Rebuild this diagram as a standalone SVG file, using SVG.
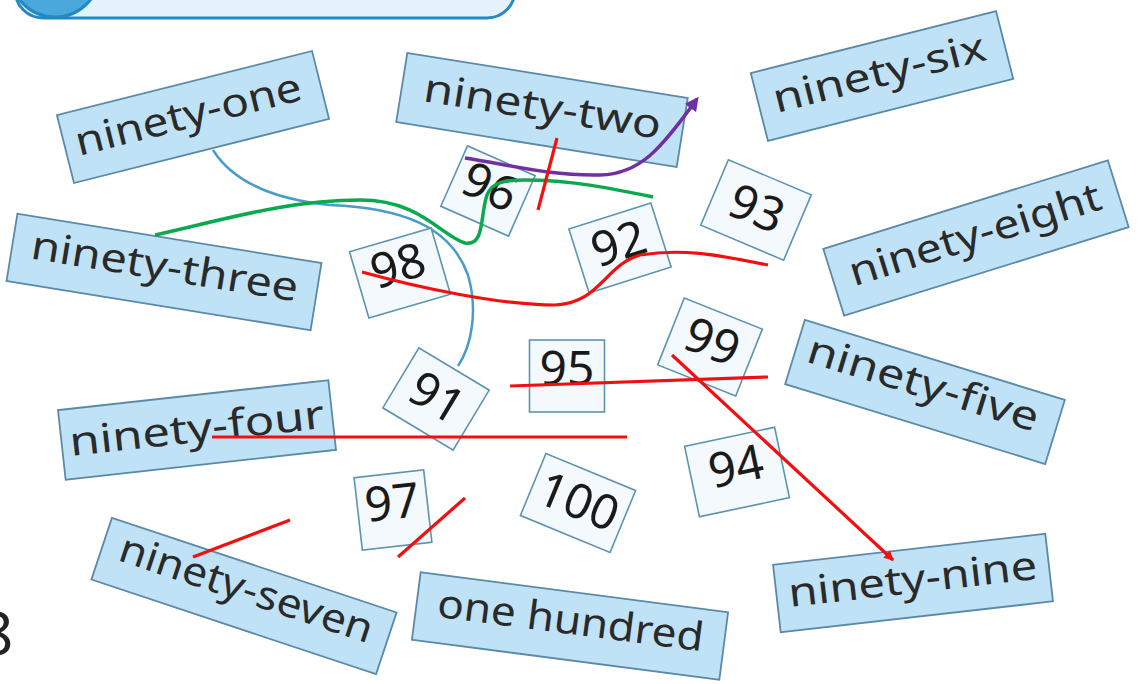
<svg xmlns="http://www.w3.org/2000/svg" width="1141" height="684" viewBox="0 0 1141 684">
<style>
.lbl rect{fill:#c0e2f6;stroke:#5b8aa6;stroke-width:1.8}
.lbl text{font-family:"Noto Sans","DejaVu Sans",sans-serif;font-size:40px;fill:#2a2a2a;text-anchor:middle}
.num rect{fill:#f3f9fd;stroke:#5e93b0;stroke-width:1.6}
.num text{font-family:"Noto Sans","DejaVu Sans",sans-serif;font-size:48px;fill:#1a1a1a;text-anchor:middle}
.red{fill:none;stroke:#f01010;stroke-width:3.2;stroke-linecap:butt}
</style>
<defs>
<marker id="ap" viewBox="0 0 10 10" refX="8" refY="5" markerWidth="4" markerHeight="4" orient="auto"><path d="M0,0 L10,5 L0,10 z" fill="#7030a0"/></marker>
<marker id="ar" viewBox="0 0 10 10" refX="9" refY="5" markerWidth="5" markerHeight="3" orient="auto"><path d="M0,0 L10,5 L0,10 z" fill="#f01010"/></marker>
</defs>
<rect width="1141" height="684" fill="#ffffff"/>
<g id="banner">
<rect x="15" y="-40" width="500" height="58" rx="28" fill="#e3f2fb" stroke="#2389c4" stroke-width="3"/>
<circle cx="55" cy="-28" r="45" fill="#4aa8dc" stroke="#2389c4" stroke-width="3"/>
</g>
<text x="-21" y="655" font-family="Noto Sans, DejaVu Sans, sans-serif" font-size="60" fill="#222">8</text>

<g id="connectors">
<path d="M213,150 C235,185 280,200 330,205 C400,208 450,225 468,275 C478,310 472,345 458,366" fill="none" stroke="#4a9cc8" stroke-width="2.5"/>
</g>

<g id="labels">
<g id="n91" class="lbl" transform="translate(193,117) rotate(-14.1)"><rect x="-131.5" y="-35" width="263" height="70"/><text x="-4" y="10" textLength="232" lengthAdjust="spacingAndGlyphs">ninety-one</text></g>
<g id="n92" class="lbl" transform="translate(542,110) rotate(9.1)"><rect x="-142" y="-35" width="284" height="70"/><text x="0" y="10" textLength="240" lengthAdjust="spacingAndGlyphs">ninety-two</text></g>
<g id="n96" class="lbl" transform="translate(882,76) rotate(-14.2)"><rect x="-126.5" y="-35" width="253" height="70"/><text x="-2" y="10" textLength="218" lengthAdjust="spacingAndGlyphs">ninety-six</text></g>
<g id="n98" class="lbl" transform="translate(976,238) rotate(-17.3)"><rect x="-149" y="-35" width="298" height="70"/><text x="0" y="10" textLength="262" lengthAdjust="spacingAndGlyphs">ninety-eight</text></g>
<g id="n93" class="lbl" transform="translate(164,272) rotate(9.2)"><rect x="-154" y="-34" width="308" height="68"/><text x="0" y="8" textLength="270" lengthAdjust="spacingAndGlyphs">ninety-three</text></g>
<g id="n94" class="lbl" transform="translate(197,430) rotate(-6.3)"><rect x="-136" y="-35" width="272" height="70"/><text x="0" y="12" textLength="256" lengthAdjust="spacingAndGlyphs">ninety-four</text></g>
<g id="n95" class="lbl" transform="translate(925,392) rotate(17.1)"><rect x="-136" y="-33.5" width="272" height="67"/><text x="-4" y="6" textLength="240" lengthAdjust="spacingAndGlyphs">ninety-five</text></g>
<g id="n97" class="lbl" transform="translate(244,596) rotate(18.4)"><rect x="-150" y="-32.5" width="300" height="65"/><text x="0" y="6" textLength="265" lengthAdjust="spacingAndGlyphs">ninety-seven</text></g>
<g id="n100" class="lbl" transform="translate(570,626) rotate(7.4)"><rect x="-155" y="-34" width="310" height="68"/><text x="0" y="8" textLength="268" lengthAdjust="spacingAndGlyphs">one hundred</text></g>
<g id="n99" class="lbl" transform="translate(913,583) rotate(-6.5)"><rect x="-137" y="-34" width="274" height="68"/><text x="0" y="10" textLength="250" lengthAdjust="spacingAndGlyphs">ninety-nine</text></g>
</g>

<g id="numbers">
<g id="b96" class="num" transform="translate(488,191) rotate(23.8)"><rect x="-37" y="-33" width="74" height="66"/><text x="0" y="12">96</text></g>
<g id="b92" class="num" transform="translate(620,248) rotate(-17.6)"><rect x="-43" y="-33.5" width="86" height="67"/><text x="0" y="12">92</text></g>
<g id="b93" class="num" transform="translate(756,210) rotate(22.9)"><rect x="-45" y="-35.5" width="90" height="71"/><text x="0" y="15">93</text></g>
<g id="b98" class="num" transform="translate(400,273) rotate(-16.3)"><rect x="-42.5" y="-34.5" width="85" height="69"/><text x="0" y="9">98</text></g>
<g id="b91" class="num" transform="translate(436,399) rotate(31)"><rect x="-41" y="-35" width="82" height="70"/><text x="0" y="15">91</text></g>
<g id="b95" class="num" transform="translate(567,376)"><rect x="-37.5" y="-36" width="75" height="72"/><text x="0" y="9">95</text></g>
<g id="b99" class="num" transform="translate(710,347) rotate(21.7)"><rect x="-42" y="-36" width="84" height="72"/><text x="0" y="11">99</text></g>
<g id="b94" class="num" transform="translate(737,472) rotate(-11.9)"><rect x="-46" y="-36" width="92" height="72"/><text x="0" y="11">94</text></g>
<g id="b100" class="num" transform="translate(578,503) rotate(22.4)"><rect x="-48.5" y="-33.5" width="97" height="67"/><text x="0" y="15">100</text></g>
<g id="b97" class="num" transform="translate(393,510) rotate(-6.5)"><rect x="-35" y="-36.5" width="70" height="73"/><text x="0" y="9">97</text></g>
</g>

<g id="strokes">
<path d="M155,235 C230,218 290,200 360,200 C420,200 440,235 465,243 C485,247 480,215 487,195 C492,182 505,180 525,180 C570,180 610,188 653,197" fill="none" stroke="#0aa84f" stroke-width="3.5"/>
<path d="M465,158 C510,165 550,176 600,175 C640,174 660,150 697,99" fill="none" stroke="#7030a0" stroke-width="3.5" marker-end="url(#ap)"/>
<path class="red" d="M557,138 L538,210"/>
<path class="red" d="M362,272 C420,288 500,305 555,305 C600,303 605,265 640,255 C690,247 730,258 768,265"/>
<path class="red" d="M510,386 L768,377"/>
<path class="red" d="M212,437 L627,437"/>
<path class="red" d="M672,355 L893,560" marker-end="url(#ar)"/>
<path class="red" d="M193,557 L290,520"/>
<path class="red" d="M398,557 L465,498"/>
</g>
</svg>
